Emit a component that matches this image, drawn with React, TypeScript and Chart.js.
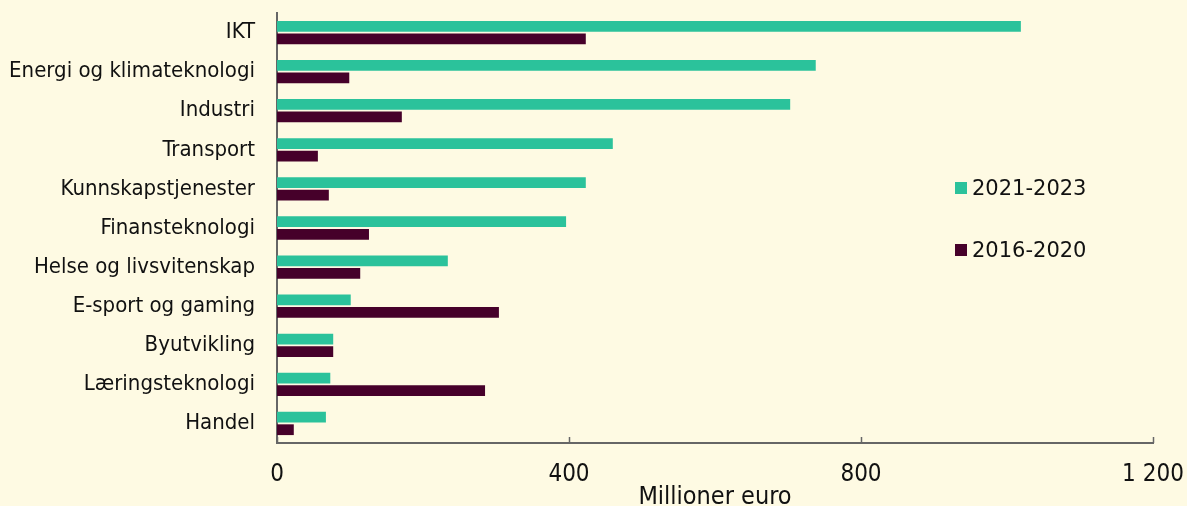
import React, { useEffect, useRef } from "react";
import { Chart, registerables } from "chart.js";

Chart.register(...registerables);

const categories = [
  "IKT",
  "Energi og klimateknologi",
  "Industri",
  "Transport",
  "Kunnskapstjenester",
  "Finansteknologi",
  "Helse og livsvitenskap",
  "E-sport og gaming",
  "Byutvikling",
  "Læringsteknologi",
  "Handel",
];
const series2021 = [1019, 738, 703, 460, 423, 396, 234, 101, 77, 73, 67];
const series2016 = [423, 99, 171, 56, 71, 126, 114, 304, 77, 285, 23];
const seriesLabels = ["2021-2023", "2016-2020"];
const xTicks = [0, 400, 800, 1200];
const xTitle = "Millioner euro";

const BG = "#FEFAE3";
const GREEN = "#2BC29B";
const PURPLE = "#46002A";
const AXIS = "#666666";

const innerTicks = {
  id: "innerTicks",
  afterDraw(chart: any) {
    const x = chart.scales.x;
    const ctx = chart.ctx;
    ctx.save();
    ctx.strokeStyle = AXIS;
    ctx.lineWidth = 1.5;
    const yb = chart.chartArea.bottom;
    for (const v of xTicks) {
      const px = Math.round(x.getPixelForValue(v)) + 0.5;
      ctx.beginPath();
      ctx.moveTo(px, yb);
      ctx.lineTo(px, yb - 6);
      ctx.stroke();
    }
    ctx.restore();
  },
};

export default function App() {
  const ref = useRef<HTMLCanvasElement>(null);
  useEffect(() => {
    document.body.style.margin = "0";
    document.body.style.background = BG;
    const chart = new Chart(ref.current!, {
      type: "bar",
      data: {
        labels: categories,
        datasets: [
          {
            label: seriesLabels[0],
            data: series2021,
            backgroundColor: GREEN,
            categoryPercentage: 0.64,
            barPercentage: 0.86,
          },
          {
            label: seriesLabels[1],
            data: series2016,
            backgroundColor: PURPLE,
            categoryPercentage: 0.64,
            barPercentage: 0.86,
          },
        ],
      },
      options: {
        indexAxis: "y",
        animation: false,
        responsive: false,
        maintainAspectRatio: false,
        layout: { padding: { top: 13, right: 34, left: 0, bottom: 0 } },
        plugins: { legend: { display: false }, tooltip: { enabled: false } },
        scales: {
          x: {
            min: 0,
            max: 1200,
            afterBuildTicks: (s: any) => {
              s.ticks = xTicks.map((v) => ({ value: v }));
            },
            afterFit: (s: any) => {
              s.height = 63;
              s.paddingLeft = 0;
              s.paddingRight = 0;
            },
            grid: { display: false, drawTicks: false },
            border: { display: true, color: AXIS, width: 2 },
            ticks: {
              padding: 17,
              color: "#111",
              font: { family: "DejaVu Sans Condensed", size: 24 },
              callback: (v: any) => (Number(v) >= 1000 ? String(v).replace(/(\d)(\d{3})$/, "$1 $2") : String(v)),
              maxRotation: 0,
            },
            title: {
              display: true,
              text: xTitle,
              color: "#111",
              font: { family: "DejaVu Sans Condensed", size: 25 },
              padding: { top: 0, bottom: -6 },
            },
          },
          y: {
            afterFit: (s: any) => {
              s.width = 277;
              s.paddingTop = 0;
              s.paddingBottom = 0;
            },
            grid: { display: false, drawTicks: false },
            border: { display: true, color: AXIS, width: 2 },
            ticks: {
              padding: 22,
              color: "#111",
              font: { family: "DejaVu Sans Condensed", size: 22 },
              autoSkip: false,
            },
          },
        },
      },
      plugins: [innerTicks],
    });
    return () => chart.destroy();
  }, []);

  const legendItem = (label: string, color: string, top: number) => (
    <div
      style={{
        position: "absolute",
        left: 955,
        top,
        display: "flex",
        alignItems: "center",
        fontFamily: "DejaVu Sans",
        fontSize: 21,
        color: "#111",
        lineHeight: "24px",
      }}
    >
      <span style={{ display: "inline-block", width: 12, height: 12, background: color, marginRight: 5 }} />
      <span>{label}</span>
    </div>
  );

  return (
    <div style={{ position: "relative", width: 1187, height: 506, background: BG, overflow: "hidden" }}>
      <canvas ref={ref} width={1187} height={506} style={{ display: "block" }} />
      {legendItem(seriesLabels[0], GREEN, 176)}
      {legendItem(seriesLabels[1], PURPLE, 238)}
    </div>
  );
}
